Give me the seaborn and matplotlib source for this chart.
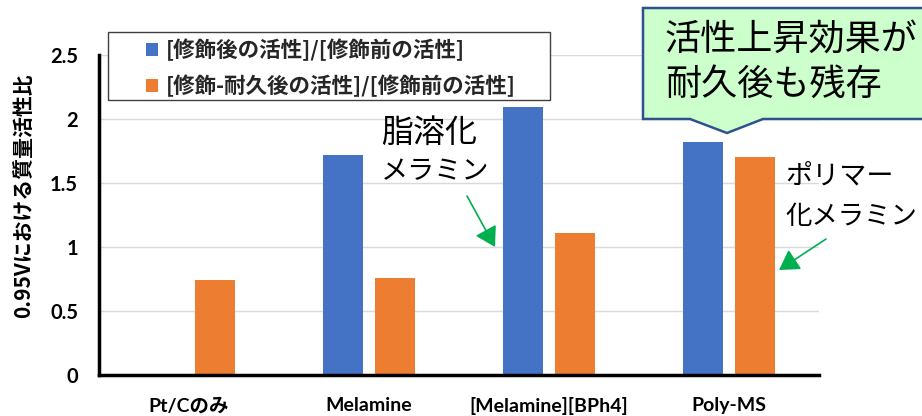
import numpy as np
import pandas as pd
import matplotlib
matplotlib.use("Agg")
import matplotlib.pyplot as plt
import matplotlib.transforms as mtransforms
from matplotlib.patches import Polygon, Rectangle, FancyArrowPatch
import seaborn as sns

# --- data -------------------------------------------------------------
categories = ["Pt/Cのみ", "Melamine", "[Melamine][BPh4]", "Poly-MS"]
series_names = ["[修飾後の活性]/[修飾前の活性]",
                "[修飾-耐久後の活性]/[修飾前の活性]"]
after_mod = [np.nan, 1.72, 2.09, 1.82]
after_durability = [0.74, 0.76, 1.11, 1.70]
y_ticks = [0, 0.5, 1, 1.5, 2, 2.5]
y_tick_labels = ["0", "0.5", "1", "1.5", "2", "2.5"]
y_label = "0.95Vにおける質量活性比"
colors = ["#4472C4", "#ED7D31"]

df = pd.DataFrame({
    "category": categories * 2,
    "series": [series_names[0]] * len(categories) + [series_names[1]] * len(categories),
    "value": after_mod + after_durability,
})

sns.set_theme(style="white")
plt.rcParams["font.family"] = ["Lato", "Noto Sans CJK JP", "DejaVu Sans"]
JP = ["Noto Sans CJK JP", "DejaVu Sans"]

W, H = 922, 416
fig = plt.figure(figsize=(W / 100, H / 100), dpi=100)
ax = fig.add_axes([99 / W, 41 / H, 720 / W, 320 / H])

sns.barplot(data=df, x="category", y="value", hue="series",
            order=categories, hue_order=series_names, palette=colors,
            saturation=1, width=0.572, gap=0.22, linewidth=0,
            errorbar=None, ax=ax, zorder=2)

# --- axes styling -----------------------------------------------------
ax.set_xlim(-0.5, len(categories) - 0.5)
ax.set_ylim(0, 2.5)
ax.set_yticks(y_ticks)
ax.set_yticklabels(y_tick_labels, fontsize=14.5, fontweight="bold")
ax.set_xticks(range(len(categories)))
ax.set_xticklabels(categories, fontsize=14, fontweight="bold")
ax.set_xlabel("")
ax.set_ylabel("")
ax.tick_params(axis="y", length=0, pad=15, colors="#000000")
ax.tick_params(axis="x", length=0, pad=16, colors="#000000")
ax.yaxis.grid(True, color="#D9D9D9", linewidth=1)
ax.set_axisbelow(True)
for side in ("top", "right"):
    ax.spines[side].set_visible(False)
for side in ("left", "bottom"):
    ax.spines[side].set_color("#000000")
    ax.spines[side].set_linewidth(2.5)

fig.text(24 / W, 1 - 196 / H, y_label, rotation=90, ha="center", va="center",
         fontsize=15, fontweight="bold", family=JP, color="#000000")

# --- pixel-based transform for overlay elements -----------------------
pix = mtransforms.Affine2D().scale(1 / W, -1 / H).translate(0, 1) + fig.transFigure

# --- legend (own frame, drawn at figure level) ------------------------
legend_box = Rectangle((108, 32), 442, 68, transform=pix, facecolor="white",
                       edgecolor="#404040", linewidth=1.0, zorder=5)
fig.add_artist(legend_box)
handles, labels = ax.get_legend_handles_labels()
if ax.get_legend() is not None:
    ax.get_legend().remove()
leg = fig.legend(handles, labels, loc="upper left",
                 bbox_to_anchor=(146, 39), bbox_transform=pix,
                 frameon=False, handlelength=0.55, handleheight=0.55,
                 handletextpad=0.35, borderaxespad=0, borderpad=0,
                 labelspacing=0.62,
                 prop={"family": JP, "weight": "bold", "size": 15.5})
leg.set_zorder(6)

# --- callout ----------------------------------------------------------
callout = Polygon([(643, 8), (930, 8), (930, 119), (763, 119), (727, 133),
                   (690, 119), (643, 119)], closed=True, transform=pix,
                  facecolor="#CCFFCC", edgecolor="#2F528F", linewidth=1.8,
                  zorder=7, clip_on=False)
fig.add_artist(callout)
fig.text(665, 40, "活性上昇効果が", transform=pix, ha="left", va="center",
         fontsize=26, family=JP, color="#000000", zorder=8)
fig.text(665, 85, "耐久後も残存", transform=pix, ha="left", va="center",
         fontsize=26, family=JP, color="#000000", zorder=8)

# --- free-standing notes with arrows ----------------------------------
fig.text(381, 133, "脂溶化", transform=pix, ha="left", va="center",
         fontsize=23, family=JP, color="#000000", zorder=8)
fig.text(381, 172, "メラミン", transform=pix, ha="left", va="center",
         fontsize=19.5, family=JP, color="#000000", zorder=8)
fig.text(785, 176, "ポリマー", transform=pix, ha="left", va="center",
         fontsize=19.5, family=JP, color="#000000", zorder=8)
fig.text(785, 216, "化メラミン", transform=pix, ha="left", va="center",
         fontsize=19, family=JP, color="#000000", zorder=8)

for start, end in [((467, 196), (495, 247)), ((826, 239), (779, 270))]:
    arrow = FancyArrowPatch(start, end, transform=pix,
                            arrowstyle="-|>,head_length=0.75,head_width=0.45",
                            mutation_scale=16, color="#00B050", linewidth=1.2,
                            shrinkA=0, shrinkB=0, zorder=8)
    fig.add_artist(arrow)

fig.savefig("out.png", dpi=100)
